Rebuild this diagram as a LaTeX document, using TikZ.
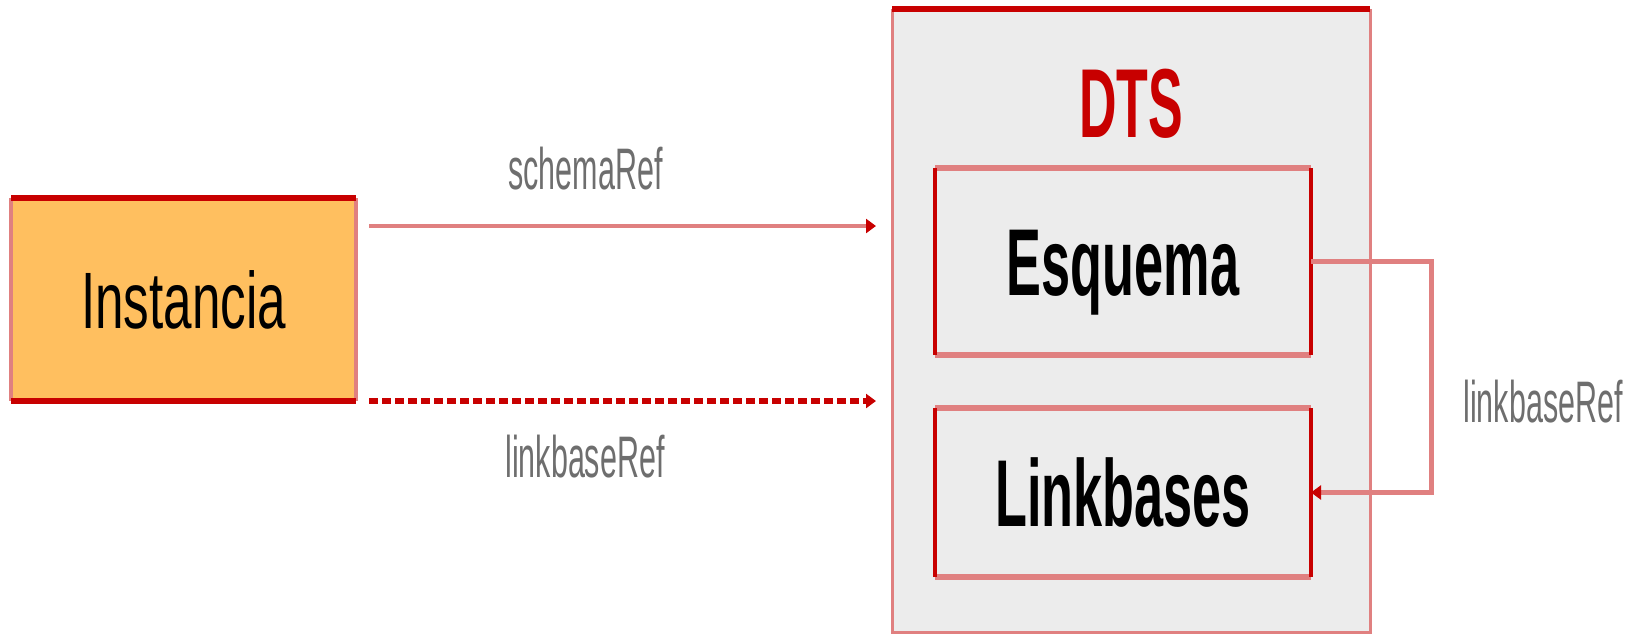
\documentclass[tikz,border=0pt]{standalone}
\usepackage{fontspec}
\setmainfont{Liberation Sans}
\newfontfamily\instfont[FakeStretch=0.64]{Liberation Sans}
\newfontfamily\partfont[FakeStretch=0.55]{Liberation Sans}
\newfontfamily\dtsfont[FakeStretch=0.53]{Liberation Sans}
\newfontfamily\reffont[FakeStretch=0.52]{Liberation Sans}
\usetikzlibrary{arrows.meta,calc}

\definecolor{instorange}{HTML}{FFBF5F}
\definecolor{dtsgray}{HTML}{ECECEC}
\definecolor{darkred}{HTML}{C80000}
\definecolor{lightred}{HTML}{E08080}
\definecolor{refgray}{HTML}{6E6E6E}

\tikzset{
  darkedge/.style={draw=darkred, line width=3pt},
  lightedge/.style={draw=lightred, line width=2pt},
  refline/.style={draw=lightred, line width=2.25pt, -{Triangle[length=5pt,width=7pt,color=darkred]}},
  reflabel/.style={text=refgray, font=\reffont\fontsize{29.3pt}{32pt}\selectfont, inner sep=0pt, anchor=base west},
  partbox/.style={fill=dtsgray, minimum width=188pt, inner sep=0pt, outer sep=0pt, text depth=0pt, text height=34pt, font=\partfont\bfseries\fontsize{47.5pt}{50pt}\selectfont},
}

\begin{document}
\begin{tikzpicture}[x=0.5pt, y=-0.5pt, node distance=115.5pt]
\useasboundingbox (0,0) rectangle (1629,633);

% instance document
\node (inst) [fill=instorange, minimum width=172.5pt, minimum height=101.5pt, inner sep=0pt, outer sep=0pt, text height=28.5pt, text depth=0pt, font=\instfont\fontsize{40pt}{44pt}\selectfont] at (183.5,299.5) {Instancia};
\draw[lightedge] (inst.north west) -- (inst.south west);
\draw[lightedge] (inst.north east) -- (inst.south east);
\draw[darkedge] (inst.north west) -- (inst.north east);
\draw[darkedge] (inst.south west) -- (inst.south east);

% DTS
\node (dts) [fill=dtsgray, minimum width=239pt, minimum height=311.5pt, inner sep=0pt, outer sep=0pt] at (1131,320.5) {};
\draw[lightedge, line width=1.5pt] (dts.north west) -- (dts.south west) -- (dts.south east) -- (dts.north east);
\draw[darkedge] (dts.north west) -- (dts.north east);
\node (dtslbl) [text=darkred, inner sep=0pt, text height=35pt, text depth=0pt, font=\dtsfont\bfseries\fontsize{49pt}{52pt}\selectfont] at (1131,102) {DTS};

\node (esq) [partbox, minimum height=93.5pt] at (1123,261.5) {Esquema};
\node (lb) [partbox, minimum height=84.5pt] [below of = esq] {Linkbases};
\foreach \p in {esq, lb} {
  \draw[lightedge, line width=3pt] (\p.north west) -- (\p.north east);
  \draw[lightedge, line width=3pt] (\p.south west) -- (\p.south east);
  \draw[darkedge, line width=2pt] (\p.north west) -- (\p.south west);
  \draw[darkedge, line width=2pt] (\p.north east) -- (\p.south east);
}

% references
\coordinate (sref) at ($(inst.north east)+(6.5pt,-14pt)$);
\coordinate (lref) at ($(inst.south east)+(6.5pt,0)$);
\draw[refline] (sref) -- ($(dts.west |- sref)+(-8pt,0)$);
\draw[refline, draw=darkred, line width=2.75pt, dash pattern=on 4.5pt off 2pt] (lref) -- ($(dts.west |- lref)+(-8pt,0)$);
\draw[refline, line width=2.5pt] (esq.east) -- ++(60pt,0) |- (lb.east);

\node[reflabel] (schemalbl) at (508,189) {schemaRef};
\node[reflabel] (linklbl) at (505,477) {linkbaseRef};
\node[reflabel] (linkrightlbl) at (1463,422) {linkbaseRef};
\end{tikzpicture}
\end{document}
